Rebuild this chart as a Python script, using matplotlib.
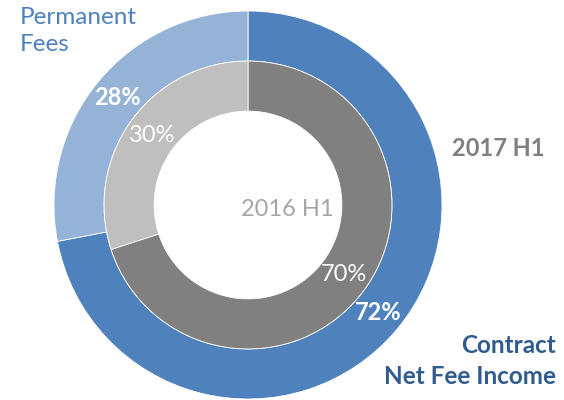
import matplotlib
matplotlib.use("Agg")
import matplotlib.pyplot as plt

plt.rcParams['font.family'] = ['Lato', 'DejaVu Sans']

categories = ["Contract Net Fee Income", "Permanent Fees"]
values_2017 = [72, 28]
values_2016 = [70, 30]
series_labels = ["2017 H1", "2016 H1"]

outer_colors = ["#4F81BD", "#95B3D7"]
inner_colors = ["#808080", "#BFBFBF"]

W, H = 564, 400
fig = plt.figure(figsize=(W / 100, H / 100), dpi=100)
cx, cy, R = 248, 205, 194
ax = fig.add_axes([(cx - R) / W, (H - cy - R) / H, 2 * R / W, 2 * R / H])

width = 0.258
r_out = 1.0
r_in = 1.0 - width

w1, t1, a1 = ax.pie(values_2017, radius=r_out, colors=outer_colors, startangle=90,
                    counterclock=False, autopct='%.0f%%',
                    pctdistance=(r_out - width / 2) / r_out,
                    wedgeprops=dict(width=width, edgecolor='white', linewidth=0.6))
w2, t2, a2 = ax.pie(values_2016, radius=r_in, colors=inner_colors, startangle=90,
                    counterclock=False, autopct='%.0f%%',
                    pctdistance=(r_in - width / 2) / r_in,
                    wedgeprops=dict(width=width, edgecolor='white', linewidth=0.6))
for t in a1:
    t.set_color('white'); t.set_fontweight('bold'); t.set_fontsize(17)
for t in a2:
    t.set_color('white'); t.set_fontsize(17)

ax.set_xlim(-1, 1); ax.set_ylim(-1, 1)
ax.set_aspect('equal')
ax.axis('off')

fig.text(287 / W, 1 - 210 / H, series_labels[1], color='#A6A6A6', fontsize=17,
         ha='center', va='center')
fig.text(498 / W, 1 - 148 / H, series_labels[0], color='#7F7F7F', fontsize=17,
         fontweight='bold', ha='center', va='center')
fig.text(20 / W, 1 - 31 / H, "Permanent\nFees", color='#4F81BD', fontsize=17.5,
         ha='left', va='center', linespacing=1.4)
fig.text(556 / W, 1 - 361 / H, "Contract\nNet Fee Income", color='#2F5B8F', fontsize=17.5,
         fontweight='bold', ha='right', va='center', multialignment='right',
         linespacing=1.4)

fig.savefig("out.png", dpi=100)
